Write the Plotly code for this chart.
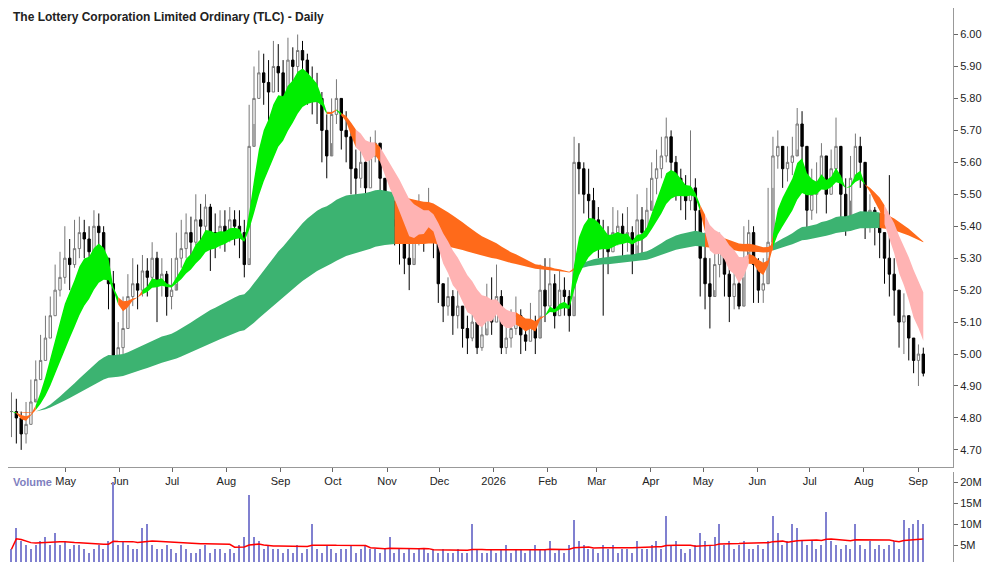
import pandas as pd
import plotly.graph_objects as go
from plotly.subplots import make_subplots

# barras cada ~2 dias habiles, de 2025-03-31 a 2026-09-04
closes = [
    4.82, 4.80, 4.75, 4.78, 4.85, 4.92, 4.98, 5.05, 5.12, 5.20, 5.24,
    5.30, 5.28, 5.33, 5.38, 5.36, 5.32, 5.40, 5.38, 5.30, 5.22, 4.98,
    5.02, 5.08, 5.18, 5.22, 5.20, 5.26, 5.24, 5.30, 5.22, 5.25, 5.18,
    5.20, 5.30, 5.33, 5.38, 5.35, 5.42, 5.40, 5.46, 5.38, 5.36, 5.40,
    5.38, 5.42, 5.40, 5.38, 5.28, 5.65, 5.80, 5.88, 5.85, 5.82, 5.90,
    5.88, 5.80, 5.92, 5.90, 5.95, 5.92, 5.85, 5.82, 5.80, 5.70, 5.62,
    5.75, 5.80, 5.70, 5.68, 5.58, 5.55, 5.60, 5.52, 5.62, 5.66, 5.55,
    5.45, 5.42, 5.40, 5.35, 5.30, 5.28, 5.35, 5.40, 5.38, 5.45, 5.35,
    5.22, 5.15, 5.18, 5.12, 5.15, 5.08, 5.05, 5.10, 5.02, 5.06, 5.15,
    5.10, 5.18, 5.02, 5.05, 5.08, 5.12, 5.06, 5.04, 5.10, 5.05, 5.20,
    5.15, 5.22, 5.12, 5.20, 5.18, 5.12, 5.60, 5.58, 5.50, 5.48,
    5.42, 5.38, 5.35, 5.32, 5.38, 5.40, 5.36, 5.38, 5.30, 5.42, 5.38,
    5.45, 5.55, 5.58, 5.62, 5.68, 5.60, 5.55, 5.50, 5.48, 5.52, 5.45,
    5.30, 5.22, 5.18, 5.28, 5.32, 5.25, 5.18, 5.22, 5.15, 5.30, 5.38,
    5.28, 5.20, 5.22, 5.35, 5.62, 5.65, 5.58, 5.60, 5.62, 5.72, 5.65,
    5.45, 5.50, 5.52, 5.62, 5.50, 5.58, 5.65, 5.50, 5.42, 5.55, 5.65,
    5.60, 5.42, 5.45, 5.40, 5.38, 5.30, 5.25, 5.20, 5.10, 5.12, 5.05,
    4.98, 5.00, 4.94,
]
highs = [
    4.88, 4.86, 4.82, 4.85, 4.92, 4.98, 5.06, 5.12, 5.18, 5.28, 5.32,
    5.40, 5.36, 5.42, 5.43, 5.42, 5.40, 5.45, 5.44, 5.40, 5.30, 5.26,
    5.10, 5.18, 5.25, 5.30, 5.28, 5.31, 5.30, 5.35, 5.32, 5.30, 5.26,
    5.30, 5.38, 5.42, 5.44, 5.43, 5.50, 5.47, 5.50, 5.47, 5.44, 5.45,
    5.45, 5.46, 5.45, 5.45, 5.42, 5.78, 5.90, 5.95, 5.94, 5.92, 5.98,
    5.97, 5.92, 5.99, 5.96, 6.00, 5.98, 5.94, 5.90, 5.88, 5.82, 5.75,
    5.80, 5.86, 5.80, 5.76, 5.70, 5.64, 5.68, 5.64, 5.68, 5.70, 5.66,
    5.55, 5.50, 5.48, 5.45, 5.40, 5.38, 5.42, 5.50, 5.46, 5.52, 5.46,
    5.35, 5.22, 5.24, 5.20, 5.20, 5.15, 5.12, 5.14, 5.10, 5.12, 5.22,
    5.24, 5.28, 5.20, 5.12, 5.14, 5.18, 5.14, 5.10, 5.16, 5.12, 5.28,
    5.30, 5.30, 5.25, 5.26, 5.24, 5.20, 5.68, 5.66, 5.60, 5.58,
    5.52, 5.46, 5.42, 5.40, 5.46, 5.45, 5.44, 5.46, 5.40, 5.50, 5.46,
    5.52, 5.60, 5.64, 5.68, 5.74, 5.70, 5.62, 5.58, 5.56, 5.70, 5.55,
    5.45, 5.38, 5.30, 5.36, 5.38, 5.35, 5.28, 5.32, 5.26, 5.40, 5.42,
    5.40, 5.30, 5.30, 5.52, 5.68, 5.70, 5.64, 5.65, 5.68, 5.77, 5.76,
    5.60, 5.58, 5.60, 5.66, 5.62, 5.64, 5.74, 5.60, 5.55, 5.62, 5.69,
    5.68, 5.50, 5.50, 5.46, 5.44, 5.38, 5.56, 5.30, 5.20, 5.19, 5.10,
    5.04, 5.03, 5.02,
]
lows = [
    4.74, 4.72, 4.70, 4.72, 4.78, 4.86, 4.92, 4.98, 5.05, 5.12, 5.18,
    5.22, 5.20, 5.27, 5.30, 5.30, 5.24, 5.32, 5.32, 5.24, 5.14, 4.96,
    4.95, 5.00, 5.08, 5.15, 5.14, 5.18, 5.18, 5.22, 5.10, 5.18, 5.12,
    5.14, 5.22, 5.27, 5.30, 5.28, 5.34, 5.34, 5.38, 5.26, 5.30, 5.33,
    5.32, 5.35, 5.34, 5.30, 5.24, 5.30, 5.72, 5.80, 5.78, 5.72, 5.82,
    5.82, 5.70, 5.84, 5.84, 5.88, 5.85, 5.78, 5.75, 5.72, 5.60, 5.55,
    5.66, 5.72, 5.64, 5.60, 5.50, 5.48, 5.52, 5.45, 5.52, 5.60, 5.48,
    5.40, 5.36, 5.34, 5.28, 5.25, 5.20, 5.30, 5.34, 5.32, 5.38, 5.30,
    5.16, 5.10, 5.12, 5.06, 5.08, 5.02, 5.00, 5.04, 5.00, 5.01, 5.08,
    5.06, 5.10, 5.00, 5.00, 5.02, 5.06, 5.00, 5.01, 5.04, 5.00, 5.12,
    5.10, 5.15, 5.08, 5.12, 5.12, 5.07, 5.18, 5.50, 5.44, 5.40,
    5.34, 5.30, 5.12, 5.25, 5.32, 5.34, 5.30, 5.32, 5.25, 5.34, 5.30,
    5.38, 5.48, 5.50, 5.55, 5.60, 5.52, 5.48, 5.45, 5.42, 5.45, 5.38,
    5.18, 5.14, 5.08, 5.20, 5.24, 5.18, 5.10, 5.14, 5.14, 5.24, 5.32,
    5.16, 5.16, 5.16, 5.30, 5.52, 5.58, 5.52, 5.54, 5.56, 5.64, 5.58,
    5.38, 5.42, 5.44, 5.55, 5.44, 5.50, 5.55, 5.42, 5.37, 5.48, 5.55,
    5.52, 5.36, 5.38, 5.34, 5.30, 5.22, 5.18, 5.12, 5.02, 5.00, 4.98,
    4.94, 4.90, 4.93,
]
volume_m = [
    4, 9, 6, 5, 4, 5, 6, 7, 5, 8, 5,
    6, 4, 5, 5, 4, 3, 4, 5, 4, 6, 20,
    5, 6, 5, 4, 4, 9, 10, 5, 4, 4, 5,
    4, 3, 5, 4, 3, 3, 4, 5, 3, 4, 4,
    3, 4, 3, 5, 7, 17, 7, 6, 4, 5, 4,
    4, 3, 4, 3, 5, 3, 4, 10, 4, 3, 5,
    4, 3, 4, 4, 5, 3, 4, 5, 4, 4, 3,
    4, 7, 3, 4, 3, 4, 3, 4, 4, 3, 4,
    3, 4, 3, 3, 4, 3, 3, 10, 4, 3, 3,
    4, 3, 4, 5, 3, 4, 4, 3, 4, 5, 4,
    4, 6, 3, 4, 3, 5, 11, 6, 5, 4,
    4, 3, 5, 4, 5, 3, 4, 4, 3, 6, 4,
    4, 5, 6, 4, 12, 5, 6, 4, 3, 4, 5,
    8, 6, 5, 7, 10, 5, 6, 4, 5, 6, 4,
    4, 5, 4, 6, 12, 8, 5, 6, 10, 9, 6,
    5, 6, 4, 5, 13, 6, 5, 4, 5, 4, 10,
    5, 4, 6, 4, 5, 4, 5, 6, 4, 11, 9,
    10, 11, 10,
]
month_ticks = ["2025-05-01", "2025-06-01", "2025-07-01", "2025-08-01", "2025-09-01",
               "2025-10-01", "2025-11-01", "2025-12-01", "2026-01-01", "2026-02-01",
               "2026-03-01", "2026-04-01", "2026-05-01", "2026-06-01", "2026-07-01",
               "2026-08-01", "2026-09-01"]
month_labels = ["May", "Jun", "Jul", "Aug", "Sep", "Oct", "Nov", "Dec", "2026", "Feb",
                "Mar", "Apr", "May", "Jun", "Jul", "Aug", "Sep"]
price_ticks = [4.70, 4.80, 4.90, 5.00, 5.10, 5.20, 5.30, 5.40, 5.50, 5.60, 5.70, 5.80, 5.90, 6.00]

n = len(closes)
dates = pd.date_range("2025-03-31", "2026-09-04", periods=n)
s = pd.Series(closes, index=dates)
opens = [closes[0]] + closes[:-1]

# medias exponenciales (en barras de 2 dias)
short_fast = s.ewm(span=6, adjust=False).mean()
short_slow = s.ewm(span=15, adjust=False).mean()
long_fast = s.ewm(span=60, adjust=False).mean()
long_slow = s.ewm(span=110, adjust=False).mean()
vol_ma = pd.Series(volume_m).rolling(25, min_periods=1).mean()
# pendiente suavizada de la media rapida larga
long_slope = long_fast.diff().fillna(0).rolling(4, min_periods=1).mean()

C_GREEN = "#00ee00"
C_DGREEN = "#3cb371"
C_ORANGE = "#ff6a1a"
C_PINK = "#ffb3b3"


def estado_corto(i):
    if short_fast.iloc[i] >= short_slow.iloc[i]:
        return C_GREEN
    if short_slow.iloc[i] - short_fast.iloc[i] > 0.045:
        return C_PINK
    return C_ORANGE


def estado_largo(i):
    return C_DGREEN if long_slope.iloc[i] >= 0 else C_ORANGE


def bandas(fig, a, b, estado):
    cols = [estado(i) for i in range(n)]
    start = 0
    for i in range(1, n + 1):
        if i == n or cols[i] != cols[start]:
            end = min(i + 1, n)
            x = dates[start:end]
            lo = [min(p, q) for p, q in zip(a.iloc[start:end], b.iloc[start:end])]
            hi = [max(p, q) for p, q in zip(a.iloc[start:end], b.iloc[start:end])]
            fig.add_trace(go.Scatter(x=x, y=lo, mode="lines", line=dict(width=0),
                                     hoverinfo="skip", showlegend=False), row=1, col=1)
            fig.add_trace(go.Scatter(x=x, y=hi, mode="lines", line=dict(width=0),
                                     fill="tonexty", fillcolor=cols[start],
                                     hoverinfo="skip", showlegend=False), row=1, col=1)
            start = i


fig = make_subplots(rows=2, cols=1, shared_xaxes=True, row_heights=[0.83, 0.17],
                    vertical_spacing=0.01)

bandas(fig, long_fast, long_slow, estado_largo)
bandas(fig, short_fast, short_slow, estado_corto)

fig.add_trace(go.Candlestick(
    x=dates, open=opens, high=highs, low=lows, close=closes,
    increasing=dict(line=dict(color="#777777", width=1), fillcolor="white"),
    decreasing=dict(line=dict(color="black", width=1), fillcolor="black"),
    whiskerwidth=0, showlegend=False), row=1, col=1)

fig.add_trace(go.Bar(x=dates, y=volume_m, marker_color="#8080d0", marker_line_width=0,
                     width=86400000 * 0.8, showlegend=False), row=2, col=1)
fig.add_trace(go.Scatter(x=dates, y=vol_ma, mode="lines", line=dict(color="red", width=1.5),
                         showlegend=False), row=2, col=1)

xr = ["2025-03-29", "2026-09-21"]
fig.update_xaxes(range=xr, rangeslider_visible=False, showgrid=False, zeroline=False,
                 showline=True, linecolor="#999999", ticks="outside", ticklen=4,
                 tickcolor="#666666")
fig.update_xaxes(tickvals=month_ticks, ticktext=month_labels, showticklabels=True,
                 tickfont=dict(family="Arial", size=11, color="#222222"), row=1, col=1)
fig.update_xaxes(showticklabels=False, tickvals=month_ticks, row=2, col=1)
fig.update_yaxes(side="right", showgrid=False, zeroline=False, showline=True, mirror=False,
                 linecolor="#999999", ticks="outside", ticklen=4, tickcolor="#666666",
                 tickfont=dict(family="Arial", size=11, color="#222222"))
fig.update_yaxes(range=[4.648, 6.083], tickvals=price_ticks, tickformat=".2f", row=1, col=1)
fig.update_yaxes(range=[0, 22.5], tickvals=[5, 10, 15, 20],
                 ticktext=["5M", "10M", "15M", "20M"], row=2, col=1)

fig.update_layout(
    width=1000, height=562, margin=dict(l=0, r=55, t=0, b=0),
    plot_bgcolor="white", paper_bgcolor="white", bargap=0,
    annotations=[
        dict(text="<b>The Lottery Corporation Limited Ordinary (TLC) - Daily</b>",
             xref="paper", yref="paper", x=0.003, y=1.0, xanchor="left", yanchor="top",
             showarrow=False, font=dict(family="Arial", size=12, color="#222222")),
        dict(text="<b>Volume</b>", xref="paper", yref="paper", x=0.003, y=0.165,
             xanchor="left", yanchor="top", showarrow=False,
             font=dict(family="Arial", size=11, color="#8080c0")),
    ],
)

fig.write_html("out.html")
